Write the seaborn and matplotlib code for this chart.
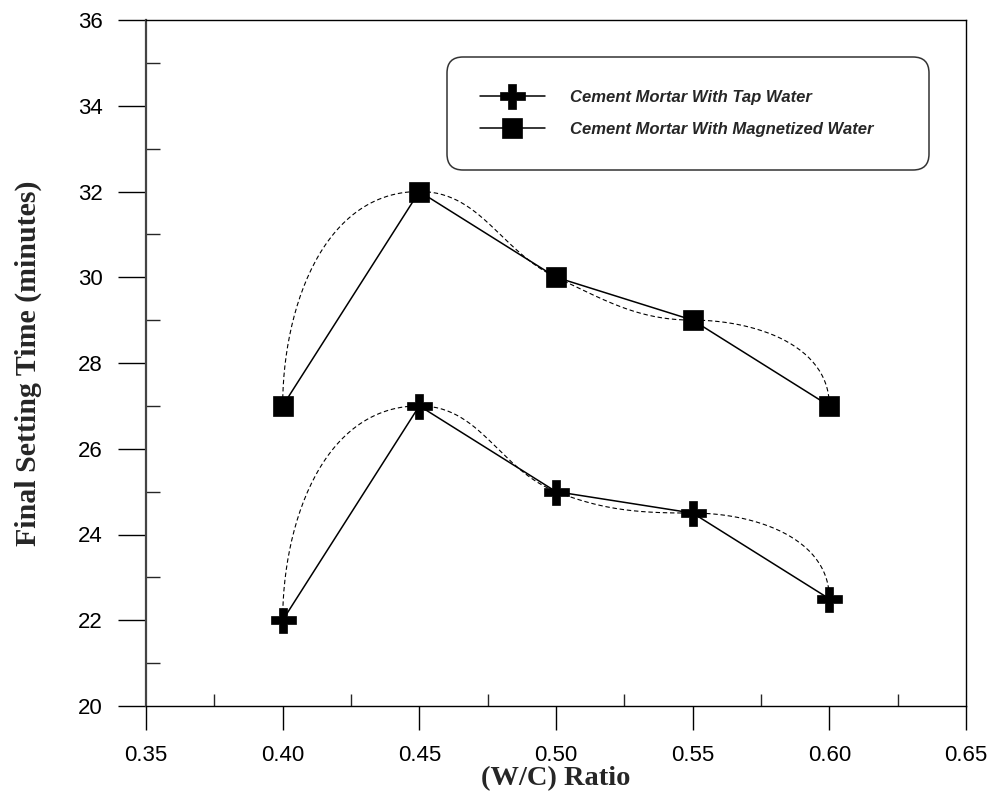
import numpy as np
import pandas as pd
import matplotlib
matplotlib.use("Agg")
import matplotlib.pyplot as plt
import seaborn as sns

# ---- data ----
wc_ratio = [0.40, 0.45, 0.50, 0.55, 0.60]
tap_water = [22.0, 27.0, 25.0, 24.5, 22.5]
magnetized_water = [27.0, 32.0, 30.0, 29.0, 27.0]
series_names = ["Cement Mortar With Tap Water", "Cement Mortar With Magnetized Water"]
x_ticks = [0.35, 0.40, 0.45, 0.50, 0.55, 0.60, 0.65]
y_ticks = [20, 22, 24, 26, 28, 30, 32, 34, 36]

sns.set_style("ticks")
plt.rcParams["font.family"] = ["Liberation Sans", "DejaVu Sans"]

W, H = 994, 798
fig = plt.figure(figsize=(W / 100, H / 100), dpi=100)
L, R, T, B = 146, 966, 20, 706
ax = fig.add_axes([L / W, 1 - B / H, (R - L) / W, (B - T) / H])
ax.set_xlim(0.35, 0.65)
ax.set_ylim(20, 36)

# smoothing curve (decorative dashed spline through the points), in pixel space
sx = (R - L) / 0.30
sy = (B - T) / 16.0
tangent_mode = ["v", "h", "c", "h", "v"]


def smooth_curve(xs, ys, r=0.38, n=60):
    px = np.array(xs) * sx
    py = np.array(ys) * sy
    P = np.column_stack([px, py])
    k = len(P)
    D = []
    for i in range(k):
        m = tangent_mode[i]
        if m == "v":
            if i == 0:
                d = np.array([0.0, np.sign(P[1, 1] - P[0, 1])])
            else:
                d = np.array([0.0, np.sign(P[i, 1] - P[i - 1, 1])])
        elif m == "h":
            d = np.array([1.0, 0.0])
        else:
            v = P[i + 1] - P[i - 1]
            d = v / np.linalg.norm(v)
        D.append(d)
    out = []
    t = np.linspace(0, 1, n)[:, None]
    for i in range(k - 1):
        Lc = np.linalg.norm(P[i + 1] - P[i])
        c0 = P[i] + D[i] * r * Lc
        c1 = P[i + 1] - D[i + 1] * r * Lc
        seg = ((1 - t) ** 3) * P[i] + 3 * ((1 - t) ** 2) * t * c0 + 3 * (1 - t) * t ** 2 * c1 + t ** 3 * P[i + 1]
        out.append(seg if i == 0 else seg[1:])
    out = np.vstack(out)
    return out[:, 0] / sx, out[:, 1] / sy


for ys in (tap_water, magnetized_water):
    cx, cy = smooth_curve(wc_ratio, ys)
    ax.plot(cx, cy, color="black", lw=0.8, ls=(0, (4, 2.5)), zorder=2, label="_nolegend_")

df_tap = pd.DataFrame({"ratio": wc_ratio, "time": tap_water})
df_mag = pd.DataFrame({"ratio": wc_ratio, "time": magnetized_water})
sns.lineplot(data=df_tap, x="ratio", y="time", ax=ax, color="black", lw=1.1,
             marker="P", markersize=18, markeredgecolor="black", markeredgewidth=0.5,
             label=series_names[0], zorder=3)
sns.lineplot(data=df_mag, x="ratio", y="time", ax=ax, color="black", lw=1.1,
             marker="s", markersize=14.5, markeredgecolor="black", markeredgewidth=0.5,
             label=series_names[1], zorder=3)

ax.set_xticks(x_ticks)
ax.set_xticklabels([f"{v:.2f}" for v in x_ticks])
ax.set_yticks(y_ticks)
ax.set_yticklabels([str(v) for v in y_ticks])
ax.set_xticks([0.375, 0.425, 0.475, 0.525, 0.575, 0.625], minor=True)
ax.set_yticks([21, 23, 25, 27, 29, 31, 33, 35], minor=True)

ax.tick_params(axis="x", which="major", direction="out", length=17, width=1.0,
               labelsize=16, pad=11, colors="black")
ax.tick_params(axis="y", which="major", direction="out", length=20, width=1.0,
               labelsize=16, pad=11, colors="black")
ax.tick_params(axis="x", which="minor", direction="in", length=9, width=1.0)
ax.tick_params(axis="y", which="minor", direction="in", length=10, width=1.0)

for s in ["top", "right", "bottom"]:
    ax.spines[s].set_visible(True)
    ax.spines[s].set_color("black")
    ax.spines[s].set_linewidth(1.0)
ax.spines["left"].set_color("#444444")
ax.spines["left"].set_linewidth(1.6)

ax.set_xlabel("(W/C) Ratio", fontfamily="Liberation Serif", fontweight="bold", fontsize=20.5, labelpad=0)
ax.set_ylabel("Final Setting Time (minutes)", fontfamily="Liberation Serif", fontweight="bold",
              fontsize=21.5, labelpad=26)

leg = ax.legend(loc="upper left", bbox_to_anchor=(447 / W, 1 - 58 / H, 482 / W, 0.001),
                bbox_transform=fig.transFigure, mode="expand",
                frameon=True, fancybox=True, handlelength=3.9, handletextpad=1.56,
                borderpad=1.95, labelspacing=1.05, borderaxespad=0,
                prop={"family": "Liberation Sans", "weight": "bold", "style": "italic", "size": 12})
fr = leg.get_frame()
fr.set_edgecolor("#333333")
fr.set_linewidth(1.1)
fr.set_alpha(1)
fr.set_boxstyle("round", pad=0, rounding_size=0.95)

fig.savefig("out.png", dpi=100)
